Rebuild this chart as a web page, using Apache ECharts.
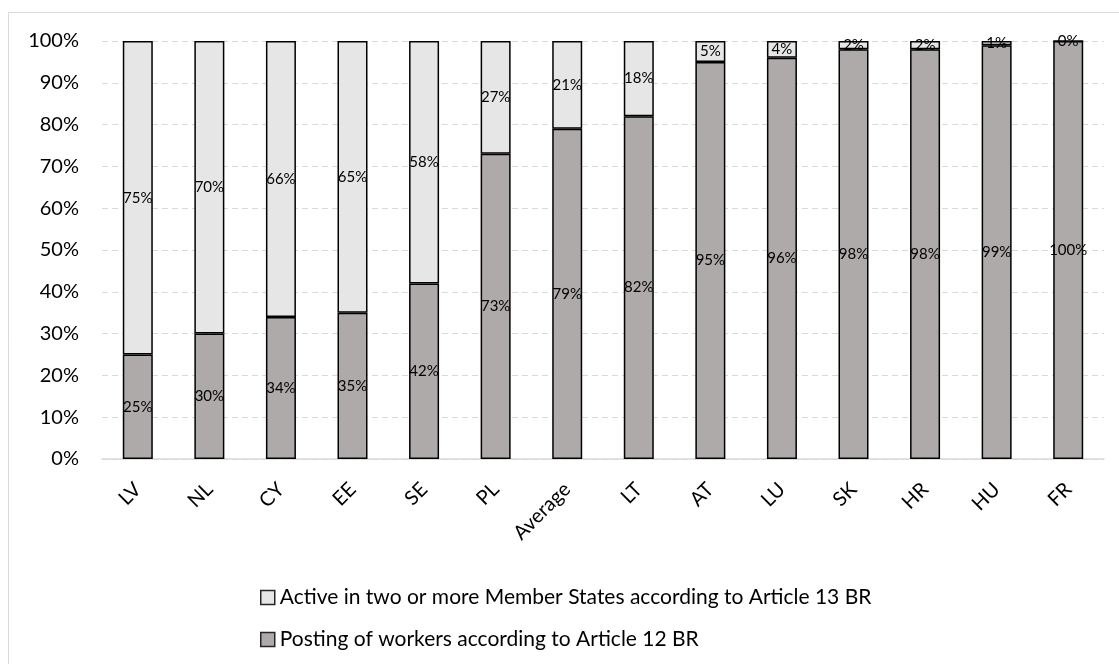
<!DOCTYPE html>
<html>
<head>
<meta charset="utf-8">
<script src="https://cdn.jsdelivr.net/npm/echarts@6/dist/echarts.min.js"></script>
<style>
html,body{margin:0;padding:0;background:#fff;}
#chart{width:1119px;height:664px;}
</style>
</head>
<body>
<div id="chart"></div>
<script>
const categories = ['LV','NL','CY','EE','SE','PL','Average','LT','AT','LU','SK','HR','HU','FR'];
const postingValues = [25,30,34,35,42,73,79,82,95,96,98,98,99,100];
const activeValues = [75,70,66,65,58,27,21,18,5,4,2,2,1,0];
const yTicks = [0,10,20,30,40,50,60,70,80,90,100];
const seriesNames = ['Active in two or more Member States according to Article 13 BR','Posting of workers according to Article 12 BR'];

const FONT = 'Lato';
const chart = echarts.init(document.getElementById('chart'), null, {renderer:'canvas'});
const labelCfg = {
  show:true, position:'inside', color:'#000', fontFamily:FONT, fontSize:15,
  formatter: p => Math.round(p.value) + '%'
};
chart.setOption({
  animation:false,
  backgroundColor:'#fff',
  graphic:[{
    type:'rect', silent:true, z:-1,
    shape:{x:8.5,y:12.5,width:1200,height:800},
    style:{fill:'none',stroke:'#D9D9D9',lineWidth:1}
  }],
  grid:{left:102, right:15, top:41, bottom:205, containLabel:false},
  legend:{
    orient:'vertical', left:255, top:582, itemGap:21,
    itemWidth:14, itemHeight:14, icon:'rect',
    textStyle:{fontFamily:FONT, fontSize:21, color:'#000'},
    data:[
      {name:seriesNames[0], itemStyle:{color:'#E7E6E6',borderColor:'#262626',borderWidth:1.5}},
      {name:seriesNames[1], itemStyle:{color:'#AEAAAA',borderColor:'#262626',borderWidth:1.5}}
    ]
  },
  xAxis:{
    type:'category', data:categories,
    axisLine:{lineStyle:{color:'#D9D9D9',width:1.5}},
    axisTick:{show:false},
    axisLabel:{rotate:45, margin:27, fontFamily:FONT, fontSize:20, color:'#000', interval:0}
  },
  yAxis:{
    type:'value', min:0, max:100, interval:10,
    axisLine:{show:false}, axisTick:{show:false},
    splitLine:{lineStyle:{color:'#D9D9D9',type:[6,4],width:1}},
    axisLabel:{margin:23, fontFamily:FONT, fontSize:20, color:'#000',
      formatter: v => yTicks.includes(v) ? v + '%' : ''}
  },
  series:[
    {
      name:seriesNames[1], type:'bar', stack:'total', data:postingValues, barWidth:30,
      itemStyle:{color:'#AEAAAA', borderColor:'#000', borderWidth:1.5},
      label:labelCfg
    },
    {
      name:seriesNames[0], type:'bar', stack:'total', data:activeValues, barWidth:30,
      itemStyle:{color:'#E7E6E6', borderColor:'#000', borderWidth:1.5},
      label:labelCfg
    }
  ]
});
</script>
</body>
</html>
